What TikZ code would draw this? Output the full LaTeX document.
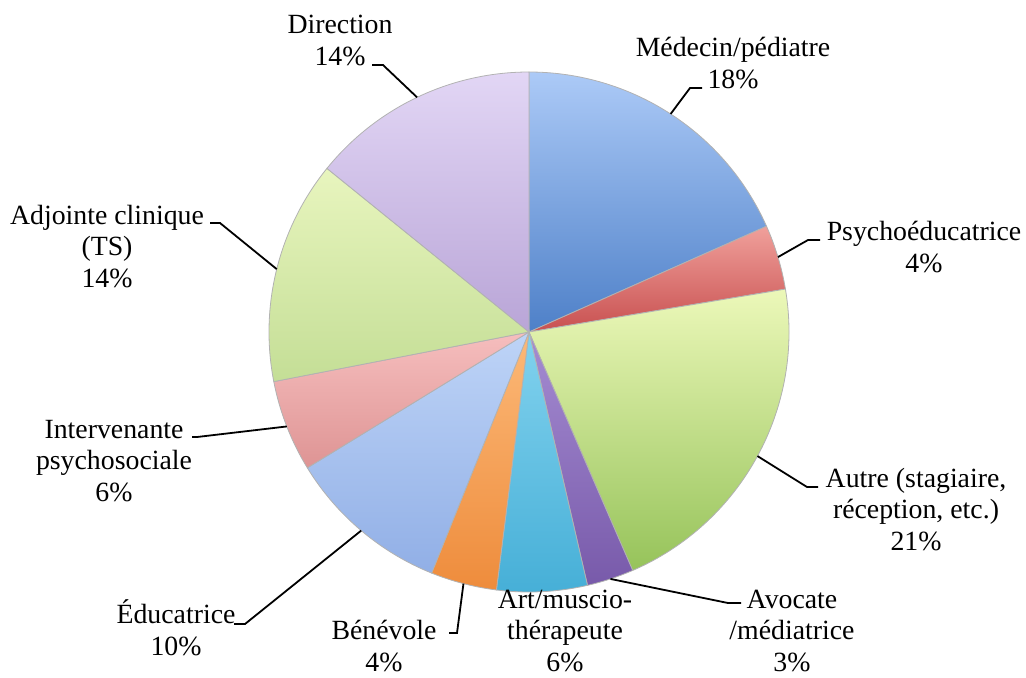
\documentclass[tikz,border=0pt]{standalone}
\usepackage{fontspec}
\setmainfont{Liberation Serif}

\definecolor{medT}{RGB}{172,202,247}
\definecolor{medB}{RGB}{78,128,200}
\definecolor{psyT}{RGB}{240,160,155}
\definecolor{psyB}{RGB}{200,80,80}
\definecolor{autT}{RGB}{236,248,185}
\definecolor{autB}{RGB}{150,195,90}
\definecolor{avoT}{RGB}{165,140,210}
\definecolor{avoB}{RGB}{120,90,170}
\definecolor{artT}{RGB}{130,210,238}
\definecolor{artB}{RGB}{70,175,215}
\definecolor{benT}{RGB}{252,185,120}
\definecolor{benB}{RGB}{238,140,60}
\definecolor{eduT}{RGB}{190,212,247}
\definecolor{eduB}{RGB}{145,175,230}
\definecolor{intT}{RGB}{246,190,190}
\definecolor{intB}{RGB}{222,148,148}
\definecolor{adjT}{RGB}{232,245,190}
\definecolor{adjB}{RGB}{196,222,150}
\definecolor{dirT}{RGB}{226,214,245}
\definecolor{dirB}{RGB}{185,165,215}

\tikzset{
  lbl/.style={align=center, anchor=base, inner sep=0pt,
    font=\fontsize{13.9pt}{15.75pt}\selectfont},
  leader/.style={line width=0.9pt},
  slice/.style={draw=black!30, line width=0.4pt}
}

\begin{document}
\begin{tikzpicture}[x=0.5pt, y=0.5pt]
  \useasboundingbox (0, 0) rectangle (1026, 677);
  \coordinate (pie) at (529, 345);

  % Slices
  \foreach \a/\b/\ct/\cb in {90/24/medT/medB, 24/9.5/psyT/psyB,
      9.5/-66.5/autT/autB, -66.5/-77/avoT/avoB, -77/-97.2/artT/artB,
      -97.2/-112/benT/benB, -112/-148.5/eduT/eduB, -148.5/-169/intT/intB,
      -169/-219/adjT/adjB, -219/-270/dirT/dirB}
    \path [slice, top color=\ct, bottom color=\cb] (pie) -- ++(\a:260)
      arc [start angle=\a, end angle=\b, radius=260] -- cycle;

  % Leader start points on the rim
  \foreach \n/\m in {med/57, psy/16.75, aut/-28.5, avo/-71.75, ben/-104.6,
      edu/-130.2, int/-158.7, adj/166, dir/115.5}
    \path (pie) ++(\m:260) coordinate (e\n);

  % Labels (placed on the baseline of their last line)
  \node [lbl] (med) at (733, 589) {Médecin/pédiatre\\18\%};
  \node [lbl] (psy) at (924, 405) {Psychoéducatrice\\4\%};
  \node [lbl] (aut) at (916, 127) {Autre (stagiaire,\\réception, etc.)\\21\%};
  \node [lbl] (avo) at (792, 6) {Avocate\\/médiatrice\\3\%};
  \node [lbl] (art) at (565, 6) {Art/muscio-\\thérapeute\\6\%};
  \node [lbl] (ben) at (384, 6) {Bénévole\\4\%};
  \node [lbl] (edu) at (176, 22) {Éducatrice\\10\%};
  \node [lbl] (int) at (114, 176) {Intervenante\\psychosociale\\6\%};
  \node [lbl] (adj) at (107, 390) {Adjointe clinique\\(TS)\\14\%};
  \node [lbl] (dir) at (340, 612) {Direction\\14\%};

  % Leader bends and ends
  \coordinate (bmed) at (690, 589);  \coordinate (tmed) at (702, 589);
  \coordinate (bpsy) at (808, 437);  \coordinate (tpsy) at (820, 437);
  \coordinate (baut) at (807, 190);  \coordinate (taut) at (818, 190);
  \coordinate (bavo) at (728, 74);   \coordinate (tavo) at (741, 74);
  \coordinate (bben) at (457, 44);   \coordinate (tben) at (449, 44);
  \coordinate (bedu) at (245, 53);   \coordinate (tedu) at (234, 53);
  \coordinate (bint) at (197, 240);  \coordinate (tint) at (192, 240);
  \coordinate (badj) at (220, 454);  \coordinate (tadj) at (210, 454);
  \coordinate (bdir) at (383, 612);  \coordinate (tdir) at (372, 612);

  % Leaders
  \foreach \n in {med, psy, aut, avo, ben, edu, int, adj, dir}
    \draw [leader] (e\n) -- (b\n) -- (t\n);
\end{tikzpicture}
\end{document}
